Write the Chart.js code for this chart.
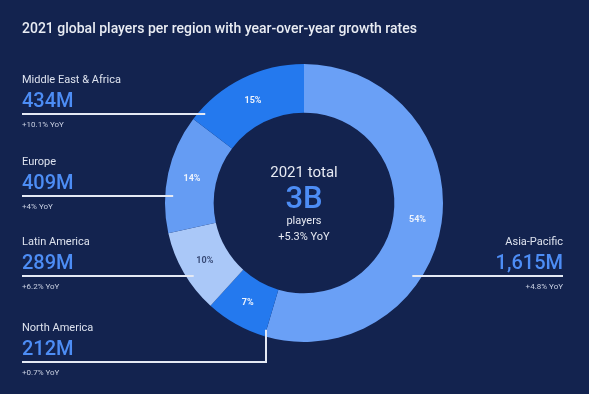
<!DOCTYPE html>
<html>
<head>
<meta charset="utf-8">
<script src="https://cdn.jsdelivr.net/npm/chart.js@4.4.0/dist/chart.umd.min.js"></script>
<style>
  html, body { margin: 0; padding: 0; background: #13234f; }
  #wrap { position: relative; width: 589px; height: 394px; overflow: hidden; font-family: Roboto, "Open Sans", sans-serif; }
  #chart { position: absolute; left: 0; top: 0; }
  .title { position: absolute; left: 22px; top: 20px; font-size: 14px; font-weight: 500; color: #e9ecf3; white-space: nowrap; }
  .block { position: absolute; white-space: nowrap; }
  .block .name { font-size: 11px; color: #dde2ee; line-height: 13px; }
  .block .val { font-size: 20px; font-weight: 500; color: #4d8df5; line-height: 22px; margin-top: 3px; }
  .block .yoy { font-size: 8px; color: #c9d0e2; line-height: 10px; margin-top: 9px; }
  .block.right { text-align: right; }
  .center { position: absolute; left: 204px; width: 200px; text-align: center; color: #e6e9f2; }
</style>
</head>
<body>
<div id="wrap">
  <canvas id="chart" width="589" height="394"></canvas>
  <div class="title">2021 global players per region with year-over-year growth rates</div>
  <div id="labels"></div>
  <div class="center" style="top:163px;font-size:15px;">2021 total</div>
  <div class="center" style="top:179px;font-size:31px;font-weight:500;color:#4d8df5;">3B</div>
  <div class="center" style="top:214px;font-size:11px;">players</div>
  <div class="center" style="top:230px;font-size:11px;">+5.3% YoY</div>
</div>
<script>
  // === DATA ===
  const regions = ["Asia-Pacific", "North America", "Latin America", "Europe", "Middle East & Africa"];
  const playersM = [1615, 212, 289, 409, 434];
  const playerText = ["1,615M", "212M", "289M", "409M", "434M"];
  const shareText = ["54%", "7%", "10%", "14%", "15%"];
  const yoyText = ["+4.8% YoY", "+0.7% YoY", "+6.2% YoY", "+4% YoY", "+10.1% YoY"];

  const sliceColors = ["#6aa0f6", "#2479ee", "#aac8f8", "#659cf3", "#2479ee"];
  const shareColors = ["#eef3fc", "#eef3fc", "#3a4c78", "#eef3fc", "#eef3fc"];

  // posisi garis penunjuk (y) per region
  const lineY = [276, 362, 276, 196, 114];
  const naLineX = 266;

  // === TEXT BLOCKS ===
  const labelsDiv = document.getElementById("labels");
  regions.forEach((r, i) => {
    const b = document.createElement("div");
    b.className = "block" + (i === 0 ? " right" : "");
    b.style.top = (lineY[i] - 41) + "px";
    if (i === 0) b.style.right = "26px"; else b.style.left = "22px";
    b.innerHTML = `<div class="name">${r.replace("&", "&amp;")}</div><div class="val">${playerText[i]}</div><div class="yoy">${yoyText[i]}</div>`;
    labelsDiv.appendChild(b);
  });

  // === PLUGIN: persen + garis ===
  const annotate = {
    id: "annotate",
    afterDatasetsDraw(chart) {
      const ctx = chart.ctx;
      const arcs = chart.getDatasetMeta(0).data;
      const cx = arcs[0].x, cy = arcs[0].y, R = arcs[0].outerRadius;

      // persen di tengah ring
      ctx.save();
      ctx.font = "bold 9px Roboto, sans-serif";
      ctx.textAlign = "center";
      ctx.textBaseline = "middle";
      arcs.forEach((a, i) => {
        const p = a.tooltipPosition();
        ctx.fillStyle = shareColors[i];
        ctx.fillText(shareText[i], p.x, p.y);
      });

      // garis
      ctx.strokeStyle = "#e4e9f4";
      ctx.lineWidth = 2;
      regions.forEach((r, i) => {
        const y = lineY[i];
        ctx.beginPath();
        if (i === 0) {
          const xr = cx + Math.sqrt(R * R - (y - cy) ** 2) - 10;
          ctx.moveTo(xr, y);
          ctx.lineTo(563, y);
        } else if (i === 1) {
          const yb = cy + Math.sqrt(R * R - (naLineX - cx) ** 2) - 7;
          ctx.moveTo(22, y);
          ctx.lineTo(naLineX, y);
          ctx.lineTo(naLineX, yb);
        } else {
          const xl = cx - Math.sqrt(R * R - (y - cy) ** 2) + 8;
          ctx.moveTo(22, y);
          ctx.lineTo(xl, y);
        }
        ctx.stroke();
      });
      ctx.restore();
    }
  };

  const chart = new Chart(document.getElementById("chart").getContext("2d"), {
    type: "doughnut",
    data: {
      labels: regions,
      datasets: [{
        data: playersM,
        backgroundColor: sliceColors,
        borderWidth: 0,
        hoverOffset: 0
      }]
    },
    options: {
      responsive: false,
      animation: false,
      cutout: "65%",
      layout: { padding: { top: 64, bottom: 52, left: 165, right: 146 } },
      plugins: { legend: { display: false }, tooltip: { enabled: false } }
    },
    plugins: [annotate]
  });
</script>
</body>
</html>
